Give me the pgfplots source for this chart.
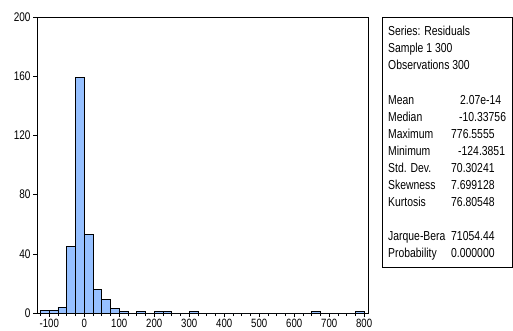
\documentclass[border=0pt]{standalone}
\usepackage{pgfplots}
\pgfplotsset{compat=1.18}
\usepackage{fontspec}
\setmainfont{Liberation Sans}[FakeStretch=0.8]
\definecolor{barblue}{RGB}{150,192,255}
\pgfplotstableread{
x y
-125 2
-100 2
-75 4
-50 45
-25 159
0 53
25 16
50 9
75 3
100 1
125 0
150 1
175 0
200 1
225 1
250 0
275 0
300 1
325 0
350 0
375 0
400 0
425 0
450 0
475 0
500 0
525 0
550 0
575 0
600 0
625 0
650 1
675 0
700 0
725 0
750 0
775 1
800 0
}\histdata
\begin{document}
\begin{tikzpicture}[x=1pt,y=1pt]
\useasboundingbox (0,0) rectangle (513,330);
\begin{axis}[
  at={(37pt,17pt)}, anchor=south west, scale only axis,
  width=331pt, height=296pt,
  xmin=-135, xmax=811, ymin=0, ymax=200,
  xtick={-100,0,...,800},
  minor xtick={-125,-100,...,800},
  ytick={0,40,...,200},
  tick align=outside, xtick pos=bottom, ytick pos=left,
  major tick length=4pt, minor tick length=3pt,
  tick style={black, line width=0.6pt},
  axis line style={line width=0.8pt},
  ticklabel style={font=\fontsize{12.5}{13}\selectfont},
  xticklabel style={yshift=1.5pt, font=\fontsize{12}{12}\selectfont},
  yticklabel style={xshift=1pt},
  /pgf/number format/assume math mode=true,
  scaled ticks=false,
]
\addplot[ybar interval, fill=barblue, draw=black, line width=0.7pt] table[x=x,y=y] {\histdata};
\end{axis}
\draw[line width=0.8pt] (382,313) rectangle (512.5,63);
\begin{scope}[every node/.style={anchor=base west, inner sep=0pt, font=\fontsize{13}{15}\selectfont}]
\node at (388,294) {Series: Residuals};
\node at (388,277) {Sample 1 300};
\node at (388,260) {Observations 300};
\node at (388,226) {Mean};
\node at (460,226) {2.07e-14};
\node at (388,209) {Median};
\node at (459,209) {-10.33756};
\node at (388,192) {Maximum};
\node at (451,192) {776.5555};
\node at (388,175) {Minimum};
\node at (458,175) {-124.3851};
\node at (388,158) {Std. Dev.};
\node at (451,158) {70.30241};
\node at (388,141) {Skewness};
\node at (451,141) {7.699128};
\node at (388,124) {Kurtosis};
\node at (451,124) {76.80548};
\node at (388,90) {Jarque-Bera};
\node at (451,90) {71054.44};
\node at (388,73) {Probability};
\node at (451,73) {0.000000};
\end{scope}
\end{tikzpicture}
\end{document}
